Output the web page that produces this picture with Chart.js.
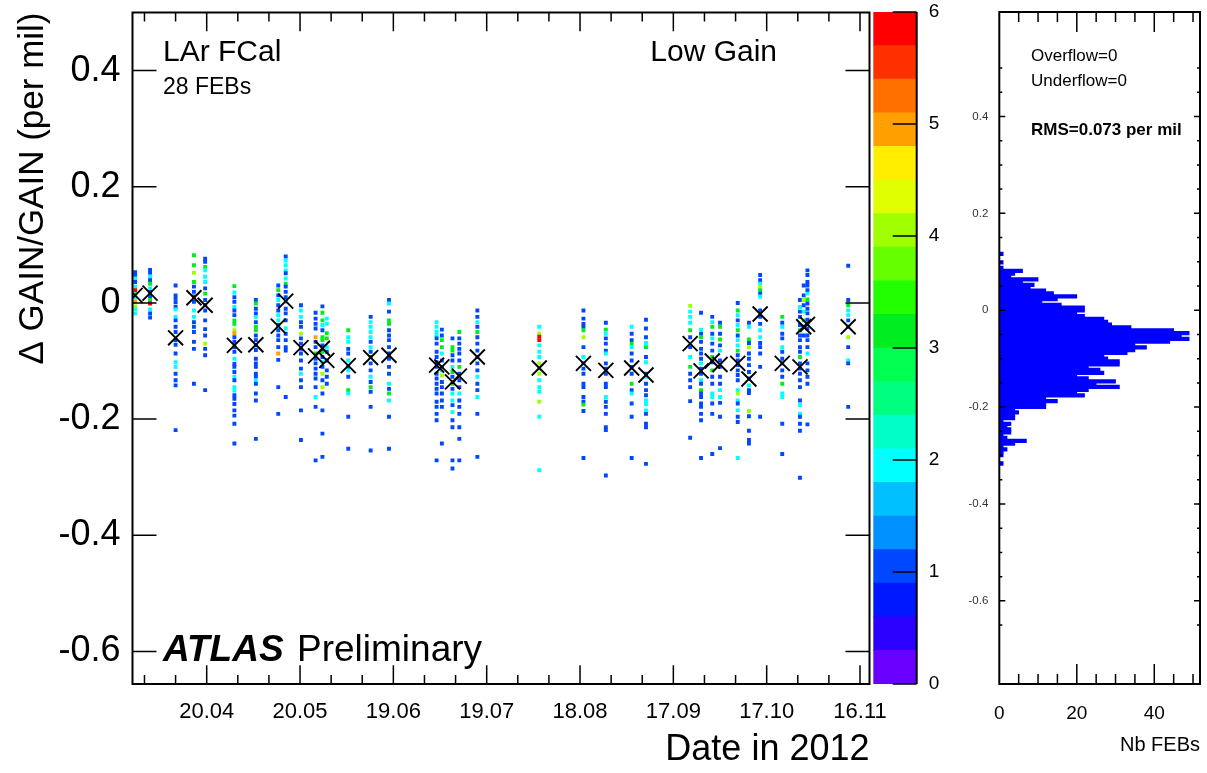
<!DOCTYPE html>
<html>
<head>
<meta charset="utf-8">
<title>LAr FCal Low Gain</title>
<script src="https://cdn.jsdelivr.net/npm/chart.js"></script>
<style>
  body { margin: 0; background: #fff; }
  #wrap { position: relative; width: 1207px; height: 773px; }
  canvas { position: absolute; top: 0; }
</style>
</head>
<body>
<div id="wrap">
  <canvas id="main" width="920" height="773" style="left:0"></canvas>
  <canvas id="zbar" width="100" height="773" style="left:860px"></canvas>
  <canvas id="hist" width="267" height="773" style="left:940px"></canvas>
</div>
<script>
const FONT = "'Liberation Sans', Arial, Helvetica, sans-serif";

// run dates (day of year 2012) and the mean gain shift of each run (per mil)
const runDays = [88.0, 92.8, 101.0, 106.9, 110.5, 119.9, 126.8, 134.0, 136.4, 141.3,
  146.0, 148.2, 149.6, 156.5, 163.7, 169.6, 184.9, 186.6, 190.0, 192.2,
  198.0, 217.9, 232.1, 239.3, 247.6, 252.2, 266.4, 269.9, 273.5, 276.0,
  281.7, 285.3, 288.9, 296.0, 301.7, 302.9, 304.1, 317.2];
const runMeans = [0.013, 0.017, -0.060, 0.009, -0.004, -0.073, -0.072, -0.040, 0.003, -0.077,
  -0.091, -0.078, -0.099, -0.108, -0.094, -0.090, -0.107, -0.110, -0.136, -0.126,
  -0.093, -0.112, -0.104, -0.116, -0.112, -0.124, -0.070, -0.117, -0.100, -0.106,
  -0.104, -0.131, -0.019, -0.104, -0.110, -0.041, -0.037, -0.041];

// filled cells of each run: [gain shift (per mil), number of FEBs]
const runCells = [
  [[0.053,1],[0.048,1],[0.042,2],[0.036,1],[0.028,2],[0.022,6],[0.015,3],[0.009,2],[0.002,5],[-0.006,4],[-0.011,2],[-0.018,2]],
  [[0.057,1],[0.052,1],[0.045,2],[0.039,1],[0.033,3],[0.025,2],[0.019,1],[0.011,1],[0.005,3],[-0.001,6],[-0.011,2],[-0.018,1],[-0.025,1]],
  [[0.030,1],[0.013,1],[0.007,1],[0.001,1],[-0.007,1],[-0.011,2],[-0.024,2],[-0.030,1],[-0.041,1],[-0.050,1],[-0.064,1],[-0.072,1],[-0.087,1],[-0.102,2],[-0.110,2],[-0.122,1],[-0.133,1],[-0.142,1],[-0.219,1]],
  [[0.082,3],[0.065,3],[0.052,4],[0.036,3],[0.028,1],[0.019,1],[0.011,1],[0.002,1],[-0.013,2],[-0.024,2],[-0.033,1],[-0.041,1],[-0.050,1],[-0.067,1],[-0.079,1],[-0.139,1]],
  [[0.076,1],[0.071,1],[0.062,3],[0.056,2],[0.045,2],[0.036,2],[0.025,1],[0.016,3],[0.005,1],[-0.004,1],[-0.013,1],[-0.030,1],[-0.045,1],[-0.056,1],[-0.070,4],[-0.079,1],[-0.090,1],[-0.150,1]],
  [[0.029,3],[0.018,2],[0.010,1],[0.002,1],[-0.007,2],[-0.013,1],[-0.021,1],[-0.030,3],[-0.036,3],[-0.047,4],[-0.052,5],[-0.059,1],[-0.067,1],[-0.076,1],[-0.084,1],[-0.096,2],[-0.105,1],[-0.110,1],[-0.119,1],[-0.127,2],[-0.133,1],[-0.145,2],[-0.151,2],[-0.159,1],[-0.165,1],[-0.174,1],[-0.185,1],[-0.194,1],[-0.208,1],[-0.242,1]],
  [[0.005,1],[-0.001,3],[-0.010,1],[-0.018,1],[-0.024,2],[-0.033,1],[-0.041,3],[-0.047,3],[-0.056,1],[-0.064,1],[-0.073,1],[-0.081,1],[-0.096,1],[-0.104,1],[-0.110,1],[-0.122,1],[-0.127,1],[-0.133,2],[-0.139,1],[-0.156,1],[-0.168,1],[-0.234,1]],
  [[0.030,1],[0.022,3],[0.013,1],[0.005,2],[-0.004,1],[-0.013,1],[-0.021,2],[-0.030,2],[-0.038,1],[-0.047,1],[-0.056,1],[-0.064,1],[-0.076,1],[-0.087,5],[-0.098,1],[-0.145,1],[-0.191,1]],
  [[0.080,1],[0.073,2],[0.065,2],[0.056,2],[0.051,1],[0.042,2],[0.033,3],[0.028,1],[0.019,1],[0.010,1],[0.002,2],[-0.010,1],[-0.018,1],[-0.030,1],[-0.044,2],[-0.053,1],[-0.064,1],[-0.076,1],[-0.082,1],[-0.162,1]],
  [[-0.004,1],[-0.013,2],[-0.024,2],[-0.033,1],[-0.041,1],[-0.053,4],[-0.061,1],[-0.070,1],[-0.079,1],[-0.087,1],[-0.099,1],[-0.113,1],[-0.122,2],[-0.133,1],[-0.145,1],[-0.185,1],[-0.236,1]],
  [[-0.017,1],[-0.027,1],[-0.036,1],[-0.044,1],[-0.059,5],[-0.067,1],[-0.076,1],[-0.087,3],[-0.096,1],[-0.104,1],[-0.113,1],[-0.122,1],[-0.130,1],[-0.145,1],[-0.162,2],[-0.179,1],[-0.271,1]],
  [[-0.006,1],[-0.017,3],[-0.030,3],[-0.038,2],[-0.047,1],[-0.059,3],[-0.064,3],[-0.073,1],[-0.084,3],[-0.093,1],[-0.102,2],[-0.110,1],[-0.122,4],[-0.133,1],[-0.145,4],[-0.156,1],[-0.185,1],[-0.225,1],[-0.265,1]],
  [[-0.027,2],[-0.036,2],[-0.052,3],[-0.061,3],[-0.076,2],[-0.084,1],[-0.099,1],[-0.116,1],[-0.127,1],[-0.139,1]],
  [[-0.047,3],[-0.059,2],[-0.067,2],[-0.079,1],[-0.087,1],[-0.099,2],[-0.110,1],[-0.116,2],[-0.127,1],[-0.150,3],[-0.156,2],[-0.196,1],[-0.251,1]],
  [[-0.024,1],[-0.033,2],[-0.041,2],[-0.050,2],[-0.059,2],[-0.067,1],[-0.076,2],[-0.084,1],[-0.093,1],[-0.104,1],[-0.116,1],[-0.127,2],[-0.136,1],[-0.145,3],[-0.153,1],[-0.179,1],[-0.254,1]],
  [[0.005,1],[-0.001,2],[-0.015,1],[-0.030,3],[-0.036,3],[-0.047,1],[-0.056,1],[-0.064,1],[-0.076,1],[-0.087,1],[-0.096,1],[-0.110,1],[-0.122,1],[-0.139,2],[-0.148,1],[-0.156,3],[-0.168,2],[-0.196,1],[-0.251,1]],
  [[-0.033,2],[-0.041,2],[-0.050,2],[-0.056,2],[-0.061,1],[-0.070,1],[-0.084,1],[-0.093,1],[-0.102,1],[-0.110,1],[-0.122,1],[-0.130,1],[-0.139,1],[-0.148,1],[-0.156,1],[-0.170,1],[-0.179,1],[-0.191,1],[-0.202,1],[-0.271,1]],
  [[-0.046,1],[-0.056,1],[-0.064,3],[-0.076,3],[-0.087,2],[-0.099,1],[-0.110,1],[-0.116,2],[-0.125,4],[-0.136,1],[-0.145,1],[-0.156,1],[-0.168,1],[-0.179,1],[-0.242,1]],
  [[-0.061,1],[-0.076,3],[-0.082,3],[-0.090,1],[-0.099,1],[-0.110,2],[-0.119,3],[-0.127,1],[-0.139,3],[-0.148,1],[-0.156,2],[-0.168,2],[-0.176,1],[-0.188,2],[-0.202,1],[-0.214,1],[-0.271,1],[-0.285,1]],
  [[-0.050,3],[-0.061,1],[-0.070,1],[-0.079,1],[-0.087,1],[-0.099,1],[-0.110,3],[-0.122,1],[-0.133,1],[-0.145,1],[-0.156,2],[-0.168,1],[-0.179,1],[-0.191,1],[-0.214,1],[-0.234,1],[-0.271,1]],
  [[-0.013,1],[-0.024,1],[-0.033,2],[-0.041,1],[-0.050,3],[-0.059,1],[-0.070,1],[-0.082,1],[-0.093,1],[-0.104,1],[-0.116,1],[-0.127,2],[-0.139,1],[-0.150,1],[-0.162,2],[-0.191,1],[-0.265,1]],
  [[-0.041,2],[-0.053,4],[-0.058,6],[-0.064,6],[-0.073,2],[-0.084,2],[-0.093,2],[-0.104,4],[-0.113,2],[-0.122,4],[-0.133,2],[-0.145,2],[-0.153,2],[-0.170,4],[-0.196,2],[-0.288,2]],
  [[-0.013,1],[-0.027,1],[-0.036,1],[-0.041,1],[-0.047,3],[-0.059,4],[-0.076,1],[-0.093,2],[-0.104,1],[-0.113,1],[-0.122,1],[-0.139,1],[-0.145,1],[-0.162,1],[-0.170,1],[-0.175,3],[-0.186,1],[-0.267,1]],
  [[-0.034,1],[-0.046,3],[-0.053,2],[-0.061,1],[-0.070,1],[-0.082,1],[-0.087,2],[-0.104,1],[-0.113,1],[-0.122,1],[-0.139,1],[-0.145,1],[-0.162,2],[-0.170,1],[-0.179,1],[-0.191,1],[-0.214,1],[-0.219,1],[-0.297,1]],
  [[-0.041,2],[-0.053,1],[-0.064,1],[-0.070,3],[-0.076,2],[-0.087,1],[-0.099,1],[-0.110,1],[-0.122,1],[-0.139,3],[-0.150,1],[-0.156,2],[-0.173,1],[-0.196,1],[-0.267,1]],
  [[-0.029,1],[-0.044,1],[-0.059,1],[-0.069,2],[-0.076,3],[-0.093,1],[-0.102,2],[-0.122,1],[-0.127,2],[-0.139,1],[-0.150,1],[-0.159,1],[-0.168,2],[-0.174,2],[-0.185,2],[-0.191,1],[-0.208,1],[-0.214,1],[-0.277,1]],
  [[-0.005,4],[-0.015,2],[-0.024,2],[-0.034,2],[-0.047,3],[-0.059,1],[-0.076,1],[-0.093,2],[-0.110,3],[-0.122,1],[-0.133,1],[-0.145,1],[-0.169,1],[-0.232,1]],
  [[-0.017,1],[-0.046,2],[-0.053,1],[-0.059,3],[-0.067,1],[-0.079,1],[-0.087,1],[-0.096,1],[-0.104,2],[-0.113,1],[-0.122,1],[-0.133,2],[-0.139,1],[-0.150,3],[-0.156,1],[-0.162,1],[-0.173,1],[-0.179,1],[-0.191,1],[-0.202,1],[-0.267,1]],
  [[-0.024,1],[-0.033,2],[-0.041,3],[-0.053,1],[-0.061,2],[-0.070,1],[-0.082,1],[-0.093,3],[-0.102,1],[-0.116,3],[-0.127,1],[-0.139,1],[-0.156,2],[-0.162,2],[-0.173,1],[-0.191,1],[-0.260,1]],
  [[-0.034,1],[-0.041,3],[-0.053,1],[-0.063,3],[-0.073,1],[-0.082,2],[-0.099,1],[-0.110,1],[-0.127,1],[-0.139,1],[-0.150,2],[-0.162,2],[-0.172,1],[-0.196,1],[-0.250,1]],
  [[0.000,1],[-0.013,3],[-0.021,2],[-0.030,1],[-0.038,2],[-0.047,3],[-0.056,1],[-0.064,2],[-0.073,2],[-0.082,3],[-0.090,1],[-0.099,1],[-0.107,1],[-0.116,1],[-0.124,1],[-0.133,1],[-0.150,2],[-0.156,4],[-0.168,2],[-0.173,1],[-0.185,2],[-0.196,1],[-0.205,1],[-0.267,2]],
  [[-0.034,1],[-0.041,2],[-0.063,3],[-0.069,1],[-0.076,4],[-0.087,1],[-0.096,1],[-0.107,1],[-0.119,1],[-0.130,1],[-0.142,2],[-0.150,1],[-0.155,1],[-0.186,4],[-0.195,1],[-0.220,1],[-0.236,1],[-0.242,1]],
  [[0.048,1],[0.039,1],[0.033,2],[0.028,4],[0.022,3],[0.016,1],[0.011,2],[-0.013,1],[-0.024,1],[-0.036,1],[-0.047,2],[-0.059,2],[-0.069,1],[-0.076,1],[-0.087,1],[-0.110,1],[-0.196,1]],
  [[-0.024,3],[-0.034,1],[-0.041,2],[-0.053,1],[-0.061,1],[-0.076,2],[-0.084,1],[-0.096,1],[-0.104,1],[-0.116,1],[-0.127,1],[-0.139,3],[-0.156,2],[-0.162,2],[-0.208,1],[-0.260,1]],
  [[0.005,1],[-0.007,2],[-0.015,1],[-0.024,1],[-0.038,1],[-0.047,3],[-0.056,1],[-0.064,1],[-0.076,1],[-0.084,1],[-0.093,3],[-0.104,1],[-0.113,1],[-0.122,1],[-0.133,1],[-0.145,1],[-0.168,1],[-0.176,2],[-0.191,2],[-0.196,1],[-0.208,1],[-0.220,1],[-0.301,1]],
  [[0.030,1],[0.013,1],[0.005,4],[-0.004,1],[-0.015,2],[-0.030,3],[-0.041,1],[-0.056,1]],
  [[0.056,1],[0.048,1],[0.036,1],[0.030,1],[0.022,1],[0.016,2],[0.006,3],[-0.001,1],[-0.010,1],[-0.018,1],[-0.029,1],[-0.036,1],[-0.044,1],[-0.056,1],[-0.064,1],[-0.076,1],[-0.087,2],[-0.104,1],[-0.116,1],[-0.127,1],[-0.139,1],[-0.209,1]],
  [[0.064,1],[0.005,1],[-0.004,3],[-0.013,2],[-0.021,2],[-0.030,1],[-0.041,1],[-0.059,4],[-0.076,1],[-0.099,2],[-0.104,1],[-0.179,1]]
];

// date axis
const tickDays = [111, 141, 171, 201, 231, 261, 291, 321];
const tickLabels = ['20.04', '20.05', '19.06', '19.07', '18.08', '17.09', '17.10', '16.11'];
const yTicks = [-0.6, -0.4, -0.2, 0, 0.2, 0.4];

// colour palette of the z axis: 20 bands of 0.3 from 0 to 6
const zPalette = ['#6a00ff', '#2c00ff', '#0018ff', '#0048ff', '#0090ff', '#00c0ff', '#00ffff',
  '#00ffc8', '#00ff80', '#00ff50', '#00ee20', '#22ff00', '#66ff00', '#a0ff00', '#e0ff00',
  '#ffee00', '#ffa000', '#ff7000', '#ff3000', '#ff0000'];
const zBand = 0.3;

// projection on the gain axis (FEBs per bin, top bin first)
const histTop = 0.1194;
const histBin = 0.00585;
const histCounts = [1, 0, 0, 1, 0, 1, 6, 4, 3, 10, 6, 9, 8, 12, 14, 20, 15, 11, 16, 22,
  22, 20, 22, 27, 28, 29, 34, 45, 49, 47, 49, 44, 35, 38, 35, 33, 27, 28, 31, 31,
  23, 26, 27, 20, 23, 30, 25, 31, 23, 20, 22, 12, 15, 12, 12, 4, 5, 4, 4, 1,
  3, 2, 3, 3, 1, 2, 7, 4, 1, 2, 1, 1, 0, 0, 1];

const Y_MIN = -0.656, Y_MAX = 0.5;

function zColor(n) {
  return zPalette[Math.min(zPalette.length - 1, Math.floor(n / zBand + 1e-9))];
}

// keep the plot frame where it is, whatever the label sizes
function noLabelPadding(s) {
  s.paddingTop = 0; s.paddingBottom = 0; s.paddingLeft = 0; s.paddingRight = 0;
}

// ROOT style frame with ticks pointing into the plot
function frameTicks(id, opts) {
  return {
    id: id,
    afterDraw(chart) {
      const {ctx, chartArea: a, scales} = chart;
      ctx.save();
      ctx.strokeStyle = '#000';
      ctx.lineWidth = 1.5;
      ctx.beginPath();
      (opts.x || []).forEach(([vals, len]) => {
        vals.forEach(v => {
          const p = scales.x.getPixelForValue(v);
          if (p <= a.left + 1 || p >= a.right - 1) return;
          ctx.moveTo(p, a.bottom); ctx.lineTo(p, a.bottom - len);
          ctx.moveTo(p, a.top); ctx.lineTo(p, a.top + len);
        });
      });
      (opts.y || []).forEach(([vals, len]) => {
        vals.forEach(v => {
          const p = scales.y.getPixelForValue(v);
          if (p < a.top - 0.5 || p > a.bottom + 0.5) return;
          if (!opts.rightOnly) { ctx.moveTo(a.left, p); ctx.lineTo(a.left + len, p); }
          ctx.moveTo(a.right, p); ctx.lineTo(a.right - len, p);
        });
      });
      ctx.stroke();
      ctx.lineWidth = 2;
      if (opts.rightOnly) {
        ctx.beginPath();
        ctx.moveTo(a.right, a.top); ctx.lineTo(a.right, a.bottom);
        ctx.stroke();
      } else {
        ctx.strokeRect(a.left, a.top, a.right - a.left, a.bottom - a.top);
      }
      if (opts.texts) opts.texts(ctx);
      ctx.restore();
    }
  };
}

// ---------- main plot ----------
const cellPoints = [];
runCells.forEach((cells, i) => {
  cells.forEach(([v, n]) => cellPoints.push({x: runDays[i], y: v, n: n}));
});
const meanPoints = runDays.map((d, i) => ({x: d, y: runMeans[i]}));

const minorDays = [];
tickDays.forEach(d => [-20, -10, 10, 20].forEach(o => {
  if (!tickDays.includes(d + o) && !minorDays.includes(d + o)) minorDays.push(d + o);
}));

new Chart(document.getElementById('main'), {
  type: 'scatter',
  data: {
    datasets: [{
      data: meanPoints,
      order: 0,
      pointStyle: 'crossRot',
      pointRadius: 10.6,
      pointBorderColor: '#000',
      pointBorderWidth: 1.9,
      pointBackgroundColor: 'rgba(0,0,0,0)'
    }, {
      data: cellPoints,
      order: 1,
      pointStyle: 'rect',
      pointRadius: 2.75,
      pointBorderWidth: 0,
      pointBackgroundColor: c => zColor(c.raw ? c.raw.n : 1)
    }]
  },
  options: {
    responsive: false,
    animation: false,
    events: [],
    layout: { padding: { left: 0, top: 12, right: 50.5, bottom: 0 } },
    plugins: { legend: { display: false }, tooltip: { enabled: false } },
    scales: {
      x: {
        type: 'linear', min: 87.15, max: 324.05,
        grid: { display: false }, border: { display: false },
        afterBuildTicks: s => { s.ticks = tickDays.map(v => ({value: v})); },
        afterFit: s => { s.height = 89; noLabelPadding(s); },
        ticks: {
          padding: 7, color: '#000', font: { family: FONT, size: 22 },
          maxRotation: 0, autoSkip: false,
          callback: v => tickLabels[tickDays.indexOf(v)]
        },
        title: {
          display: true, text: 'Date in 2012', align: 'end', color: '#000',
          font: { family: FONT, size: 36 }, padding: { top: 0, bottom: 1 }
        }
      },
      y: {
        type: 'linear', min: Y_MIN, max: Y_MAX,
        grid: { display: false }, border: { display: false },
        afterBuildTicks: s => { s.ticks = yTicks.map(v => ({value: v})); },
        afterFit: s => { s.width = 132.5; noLabelPadding(s); },
        ticks: {
          padding: 4, color: '#000', font: { family: FONT, size: 36 },
          callback: v => (v === 0 ? '0' : v.toFixed(1))
        },
        title: {
          display: true, text: '\u0394 GAIN/GAIN (per mil)', align: 'end', color: '#000',
          font: { family: FONT, size: 35 }, padding: { top: 12, bottom: 0 }
        }
      }
    }
  },
  plugins: [frameTicks('mainFrame', {
    x: [[tickDays, 18.7], [minorDays, 9]],
    y: [[yTicks, 24]],
    texts: ctx => {
      ctx.fillStyle = '#000';
      ctx.textBaseline = 'alphabetic';
      ctx.textAlign = 'left';
      ctx.font = '30px ' + FONT;
      ctx.fillText('LAr FCal', 163, 61);
      ctx.font = '23px ' + FONT;
      ctx.fillText('28 FEBs', 163, 94);
      ctx.font = 'italic bold 37px ' + FONT;
      ctx.fillText('ATLAS', 163, 661);
      ctx.font = '37px ' + FONT;
      ctx.fillText('Preliminary', 297, 661);
      ctx.textAlign = 'right';
      ctx.font = '30px ' + FONT;
      ctx.fillText('Low Gain', 777, 61);
    }
  })]
});

// ---------- colour scale ----------
const zTicks = [0, 1, 2, 3, 4, 5, 6];
new Chart(document.getElementById('zbar'), {
  type: 'bar',
  data: {
    labels: ['z'],
    datasets: zPalette.map(col => ({
      data: [zBand], backgroundColor: col, borderWidth: 0,
      barPercentage: 1, categoryPercentage: 1
    }))
  },
  options: {
    responsive: false,
    animation: false,
    events: [],
    layout: { padding: { left: 13.3, top: 12, right: 0, bottom: 89 } },
    plugins: { legend: { display: false }, tooltip: { enabled: false } },
    scales: {
      x: { stacked: true, display: false },
      y: {
        stacked: true, position: 'right', min: 0, max: 6,
        grid: { display: false }, border: { display: false },
        afterBuildTicks: s => { s.ticks = zTicks.map(v => ({value: v})); },
        afterFit: s => { s.width = 43.3; noLabelPadding(s); },
        ticks: { padding: 4, color: '#000', font: { family: FONT, size: 19 } }
      }
    }
  },
  plugins: [frameTicks('zFrame', { y: [[zTicks, 24]], rightOnly: true })]
});

// ---------- projection ----------
const histPoints = histCounts.map((n, i) => ({x: n, y: histTop - (i + 0.5) * histBin}));
const hxTicks = [0, 20, 40];
const hxMinor = [5, 10, 15, 25, 30, 35, 45, 50];
const hyMinor = [];
for (let k = -13; k <= 10; k++) if (k % 4 !== 0) hyMinor.push(k * 0.05);

new Chart(document.getElementById('hist'), {
  type: 'bar',
  data: {
    datasets: [{
      data: histPoints,
      backgroundColor: '#0000ff',
      borderWidth: 0,
      barThickness: 3.6
    }]
  },
  options: {
    indexAxis: 'y',
    responsive: false,
    animation: false,
    events: [],
    layout: { padding: { left: 0, top: 12, right: 7, bottom: 0 } },
    plugins: { legend: { display: false }, tooltip: { enabled: false } },
    scales: {
      x: {
        type: 'linear', min: 0, max: 51.8,
        grid: { display: false }, border: { display: false },
        afterBuildTicks: s => { s.ticks = hxTicks.map(v => ({value: v})); },
        afterFit: s => { s.height = 89; noLabelPadding(s); },
        ticks: { padding: 10.6, color: '#000', font: { family: FONT, size: 19 }, maxRotation: 0 },
        title: {
          display: true, text: 'Nb FEBs', align: 'end', color: '#000',
          font: { family: FONT, size: 20 }, padding: { top: 0, bottom: 16 }
        }
      },
      y: {
        type: 'linear', min: Y_MIN, max: Y_MAX,
        grid: { display: false }, border: { display: false },
        afterBuildTicks: s => { s.ticks = yTicks.map(v => ({value: v})); },
        afterFit: s => { s.width = 59.3; noLabelPadding(s); },
        ticks: {
          padding: 3, color: '#333', font: { family: FONT, size: 11.5 },
          callback: v => (v === 0 ? '0' : v.toFixed(1))
        }
      }
    }
  },
  plugins: [frameTicks('histFrame', {
    x: [[hxTicks, 20], [hxMinor, 10]],
    y: [[yTicks, 6], [hyMinor, 3]],
    texts: ctx => {
      ctx.fillStyle = '#000';
      ctx.textAlign = 'left';
      ctx.textBaseline = 'alphabetic';
      ctx.font = '17px ' + FONT;
      ctx.fillText('Overflow=0', 91, 61);
      ctx.fillText('Underflow=0', 91, 86);
      ctx.font = 'bold 17px ' + FONT;
      ctx.fillText('RMS=0.073 per mil', 91, 135);
    }
  })]
});
</script>
</body>
</html>
